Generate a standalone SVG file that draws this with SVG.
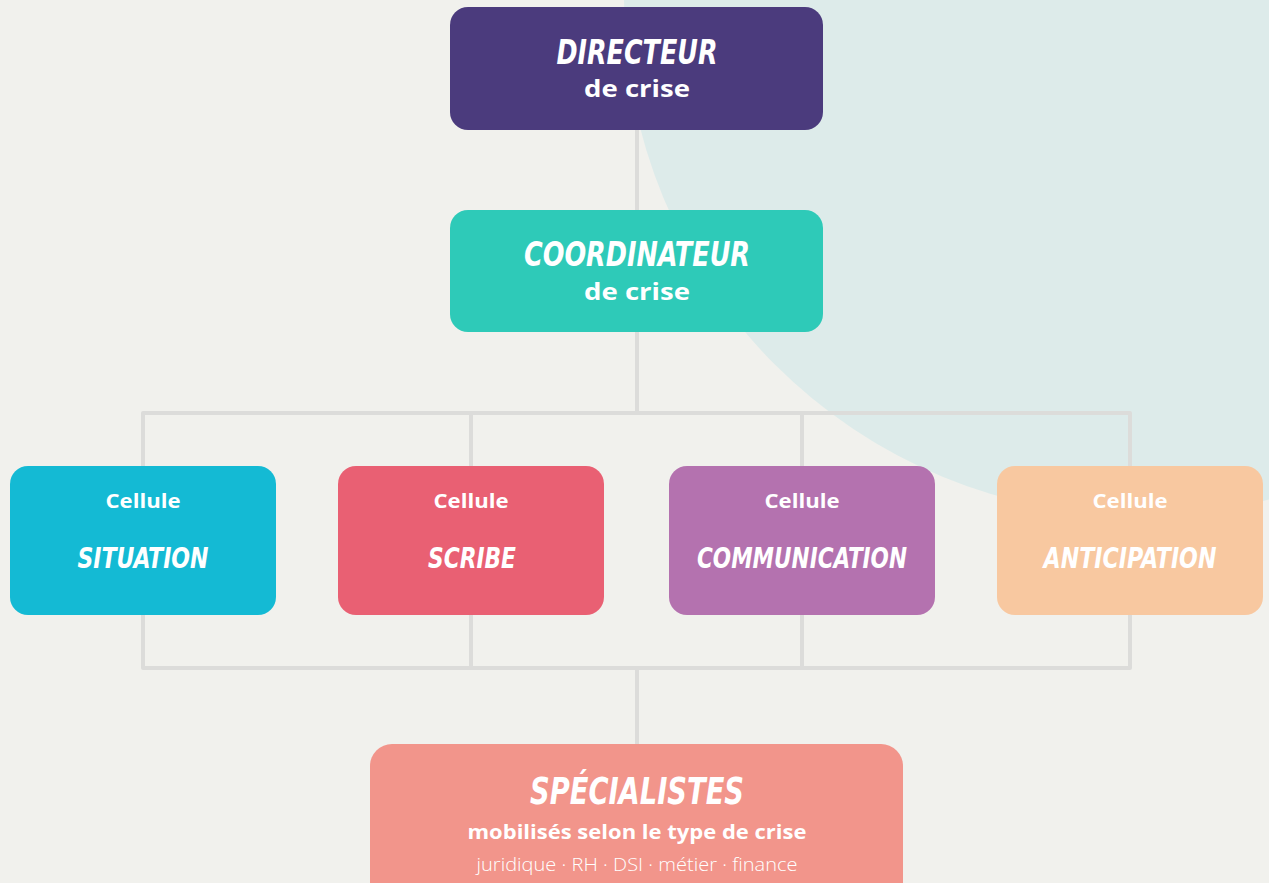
<svg xmlns="http://www.w3.org/2000/svg" width="1269" height="883" viewBox="0 0 1269 883">
<style>
.title{font-family:"DejaVu Sans Condensed","DejaVu Sans",sans-serif;font-weight:bold;font-style:italic;fill:#fff;text-anchor:middle}
.sub{font-family:"Open Sans","Noto Sans",sans-serif;font-weight:bold;fill:#fff;text-anchor:middle}
.light{font-family:"Open Sans","Noto Sans",sans-serif;font-weight:300;fill:#fff;text-anchor:middle}
.conn{fill:none;stroke:#DCDCDA;stroke-width:4;stroke-linejoin:round}
</style>
<rect width="1269" height="883" fill="#F1F1ED"/>
<circle cx="1140" cy="0" r="516" fill="#DDEBEA"/>
<g id="connectors">
<path class="conn" d="M637 130V210M637 332V413M143 466V413H1130V466M471 413V466M802 413V466"/>
<path class="conn" d="M143 615V668H1130V615M471 615V668M802 615V668M637 668V744"/>
</g>
<g id="directeur">
<rect x="450" y="7" width="373" height="123" rx="18" fill="#4B3B7D"/>
<text class="title" x="637" y="64" font-size="34" textLength="161" lengthAdjust="spacingAndGlyphs">DIRECTEUR</text>
<text class="sub" x="637" y="97" font-size="24" textLength="106" lengthAdjust="spacingAndGlyphs">de crise</text>
</g>
<g id="coordinateur">
<rect x="450" y="210" width="373" height="122" rx="18" fill="#2ECAB8"/>
<text class="title" x="637" y="266" font-size="34" textLength="226" lengthAdjust="spacingAndGlyphs">COORDINATEUR</text>
<text class="sub" x="637" y="300" font-size="24" textLength="106" lengthAdjust="spacingAndGlyphs">de crise</text>
</g>
<g id="situation">
<rect x="10" y="466" width="266" height="149" rx="18" fill="#14BAD4"/>
<text class="sub" x="143" y="508" font-size="20" textLength="75" lengthAdjust="spacingAndGlyphs">Cellule</text>
<text class="title" x="143" y="568" font-size="29" textLength="131" lengthAdjust="spacingAndGlyphs">SITUATION</text>
</g>
<g id="scribe">
<rect x="338" y="466" width="266" height="149" rx="18" fill="#E96073"/>
<text class="sub" x="471" y="508" font-size="20" textLength="75" lengthAdjust="spacingAndGlyphs">Cellule</text>
<text class="title" x="472" y="568" font-size="29" textLength="88" lengthAdjust="spacingAndGlyphs">SCRIBE</text>
</g>
<g id="communication">
<rect x="669" y="466" width="266" height="149" rx="18" fill="#B472AF"/>
<text class="sub" x="802" y="508" font-size="20" textLength="75" lengthAdjust="spacingAndGlyphs">Cellule</text>
<text class="title" x="802" y="568" font-size="29" textLength="210" lengthAdjust="spacingAndGlyphs">COMMUNICATION</text>
</g>
<g id="anticipation">
<rect x="997" y="466" width="266" height="149" rx="18" fill="#F8C8A0"/>
<text class="sub" x="1130" y="508" font-size="20" textLength="75" lengthAdjust="spacingAndGlyphs">Cellule</text>
<text class="title" x="1130" y="568" font-size="29" textLength="173" lengthAdjust="spacingAndGlyphs">ANTICIPATION</text>
</g>
<g id="specialistes">
<rect x="370" y="744" width="533" height="160" rx="22" fill="#F2958B"/>
<text class="title" x="637" y="804" font-size="37" textLength="214" lengthAdjust="spacingAndGlyphs">SPÉCIALISTES</text>
<text class="sub" x="637" y="839" font-size="20" textLength="339" lengthAdjust="spacingAndGlyphs">mobilisés selon le type de crise</text>
<text class="light" x="637" y="871" font-size="18" textLength="321" lengthAdjust="spacingAndGlyphs">juridique · RH · DSI · métier · finance</text>
</g>
</svg>
